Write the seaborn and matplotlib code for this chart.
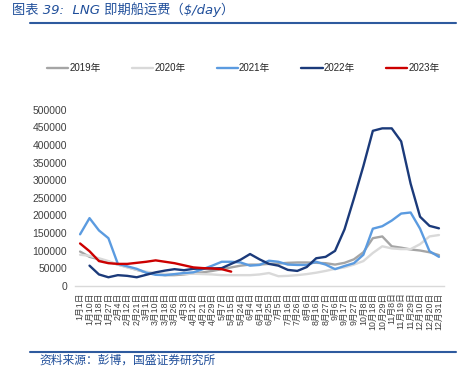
import pandas as pd
import numpy as np
import matplotlib
matplotlib.use("Agg")
import matplotlib.pyplot as plt
import seaborn as sns
from matplotlib.lines import Line2D

sns.set_theme(style="white")
plt.rcParams["font.family"] = ["Liberation Sans", "Noto Sans CJK SC", "DejaVu Sans"]

# x categories (dates shown on the axis)
x_labels = ["1月1日", "1月10日", "1月18日", "1月27日", "2月4日", "2月12日", "2月21日",
            "3月1日", "3月10日", "3月18日", "3月26日", "4月3日", "4月12日", "4月21日",
            "4月29日", "5月7日", "5月15日", "5月24日", "6月4日", "6月14日", "6月25日",
            "7月5日", "7月16日", "7月26日", "8月6日", "8月16日", "8月27日", "9月6日",
            "9月17日", "9月27日", "10月8日", "10月18日", "10月29日", "11月8日",
            "11月19日", "11月29日", "12月10日", "12月20日", "12月31日"]

# spot LNG shipping rates, $/day
y2019 = [97000, 82000, 75000, 68000, 60000, 53000, 45000, 38000, 33000, 30000,
         30000, 32000, 35000, 38000, 42000, 47000, 52000, 57000, 60000, 60000,
         62000, 63000, 65000, 66000, 66000, 65000, 64000, 60000, 65000, 75000,
         95000, 135000, 140000, 112000, 108000, 103000, 100000, 95000, 87000]
y2020 = [88000, 85000, 78000, 70000, 60000, 52000, 45000, 40000, 36000, 34000,
         33000, 34000, 34000, 33000, 32000, 30000, 30000, 30000, 30000, 32000,
         36000, 27000, 28000, 30000, 33000, 37000, 42000, 48000, 52000, 60000,
         70000, 93000, 112000, 106000, 104000, 104000, 118000, 140000, 144000]
y2021 = [146000, 192000, 157000, 135000, 62000, 55000, 48000, 37000, 31000, 30000,
         33000, 36000, 38000, 47000, 57000, 68000, 68000, 66000, 57000, 59000,
         71000, 68000, 60000, 59000, 59000, 68000, 60000, 47000, 56000, 64000,
         88000, 162000, 169000, 185000, 205000, 208000, 162000, 98000, 82000]
y2022 = [np.nan, 57000, 32000, 24000, 30000, 28000, 24000, 31000, 38000, 43000,
         47000, 44000, 48000, 49000, 49000, 50000, 62000, 74000, 90000, 75000,
         62000, 57000, 45000, 42000, 53000, 78000, 82000, 99000, 160000, 248000,
         340000, 440000, 447000, 447000, 410000, 290000, 196000, 170000, 163000]
y2023 = [120000, 98000, 70000, 64000, 62000, 62000, 65000, 68000, 72000, 68000,
         64000, 58000, 52000, 50000, 49000, 47000, 40000]

series = {"2019年": y2019, "2020年": y2020, "2021年": y2021, "2022年": y2022, "2023年": y2023}
colors = {"2019年": "#A5A5A5", "2020年": "#D9D9D9", "2021年": "#5B9BE0",
          "2022年": "#1B3A7A", "2023年": "#CC0000"}

rows = []
for name, vals in series.items():
    for i, v in enumerate(vals):
        rows.append({"idx": i, "rate": v, "year": name})
df = pd.DataFrame(rows).dropna()

fig = plt.figure(figsize=(4.68, 3.68), dpi=100)
ax = fig.add_axes([0.161, 0.2236, 0.787, 0.4783])

sns.lineplot(data=df, x="idx", y="rate", hue="year", palette=colors,
             hue_order=list(series.keys()), linewidth=1.7, ax=ax, legend=False)

ax.set_xlim(-0.5, len(x_labels) - 0.5)
ax.set_ylim(0, 500000)
ax.set_yticks(range(0, 500001, 50000))
ax.set_yticklabels([str(v) for v in range(0, 500001, 50000)], fontsize=7.5, color="#404040")
ax.set_xticks(range(len(x_labels)))
ax.set_xticklabels(x_labels, rotation=90, fontsize=6.3, color="#404040")
ax.tick_params(axis="y", length=0, pad=6)
ax.tick_params(axis="x", length=0, pad=5)
ax.set_xlabel("")
ax.set_ylabel("")
for s in ["top", "right", "left"]:
    ax.spines[s].set_visible(False)
ax.spines["bottom"].set_color("#D9D9D9")
ax.spines["bottom"].set_linewidth(1.0)
ax.grid(False)

handles = [Line2D([0], [0], color=colors[k], lw=1.7) for k in series]
fig.legend(handles, list(series.keys()), loc="center", bbox_to_anchor=(0.52, 0.815),
           ncol=5, frameon=False, fontsize=7, handlelength=2.2, handletextpad=0.1,
           columnspacing=3.2)

blue = "#1F4E9A"
fig.text(0.026, 0.973, "图表 39:  LNG 即期船运费（$/day）", fontsize=9.5, color=blue,
         style="italic", va="center", family=["DejaVu Sans", "Noto Sans CJK SC"])
fig.add_artist(Line2D([0.064, 0.975], [0.9375, 0.9375], color="#2E5A9E", lw=1.5))
fig.add_artist(Line2D([0.064, 0.975], [0.0435, 0.0435], color="#2E5A9E", lw=1.5))
fig.text(0.085, 0.02, "资料来源：彭博，国盛证券研究所", fontsize=8.5, color=blue,
         style="italic", va="center", family=["DejaVu Sans", "Noto Sans CJK SC"])

fig.savefig("out.png", dpi=100)
